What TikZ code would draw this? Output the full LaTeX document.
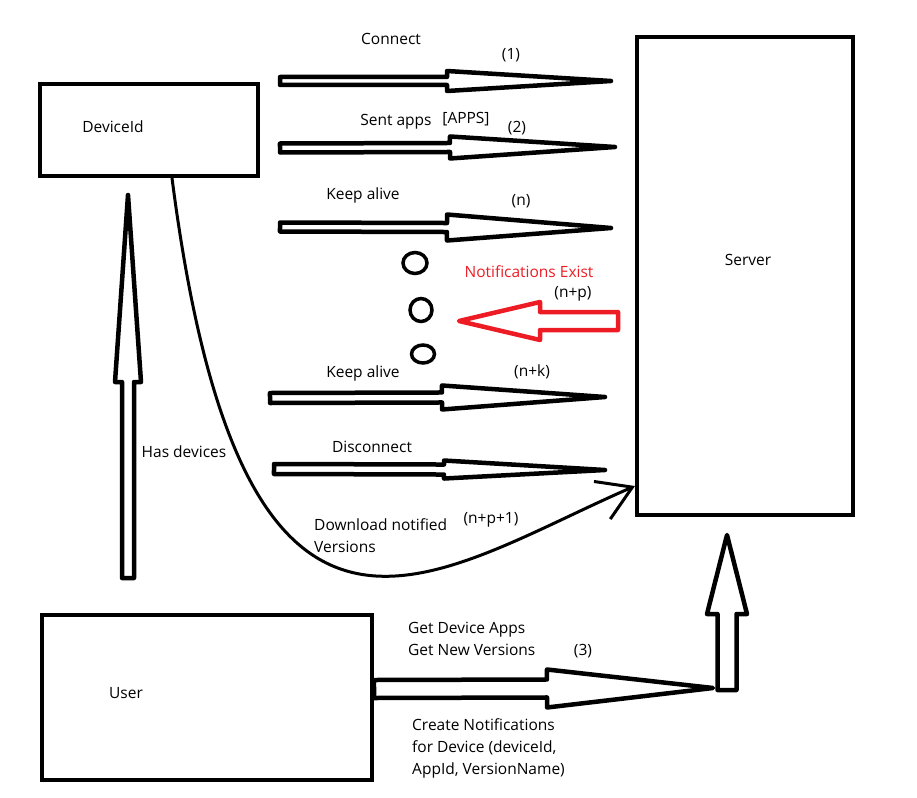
\documentclass[tikz,border=0pt]{standalone}
\usepackage{fontspec}
\setmainfont{Open Sans}
\usetikzlibrary{calc,arrows.meta}
\definecolor{paintred}{HTML}{ED1C24}
\tikzset{
  box/.style={draw, line width=4pt, minimum width=#1},
  block/.style={draw, line width=4.5pt, line join=round, fill=white},
  curve/.style={line width=3pt, -{Straight Barb[length=33pt,width=41pt]}},
  dot/.style={line width=3.5pt}
}
% block arrow: [options] tail, tip, head half width, shaft half width, head length
\newcommand{\blockarrow}[6][]{%
  \path ($(#3)!#6!(#2)$) coordinate (hb);
  \draw[block,#1] ($(#2)!#5!90:(#3)$) -- ($(hb)!#5!90:(#3)$) -- ($(hb)!#4!90:(#3)$) -- (#3)
    -- ($(hb)!#4!-90:(#3)$) -- ($(hb)!#5!-90:(#3)$) -- ($(#2)!#5!-90:(#3)$) -- cycle;}

\begin{document}
\begin{tikzpicture}[x=1pt, y=-1pt, every node/.style={font=\fontsize{15.5pt}{22pt}\selectfont, inner sep=0pt}]
	\useasboundingbox (0,0) rectangle (917,797);

	% Boxes
	\node[box=218pt, minimum height=92pt, label={[xshift=-36pt,yshift=3pt]center:DeviceId}] (dev) at (149,130) {};
	\node[box=216pt, minimum height=478pt, label={[xshift=3pt,yshift=16pt]center:Server}] (srv) at (745,276) {};
	\node[box=330pt, minimum height=165pt, label={[xshift=-81pt,yshift=4.5pt]center:User}] (usr) at (207,697.5) {};

	% Arrow ends
	\coordinate (c1a) at (280,81);  \coordinate (c1b) at (611,81);
	\coordinate (c2a) at (280,148); \coordinate (c2b) at (615,147);
	\coordinate (c3a) at (280,227); \coordinate (c3b) at (611,228);
	\coordinate (c4a) at (270,398); \coordinate (c4b) at (605,397);
	\coordinate (c5a) at (274,469); \coordinate (c5b) at (605,470);
	\coordinate (ua) at ([yshift=8.5pt]usr.east); \coordinate (ub) at (713,688);
	\coordinate (sa) at (727,690);  \coordinate (sb) at (727,535);
	\coordinate (ha) at (128,578);  \coordinate (hb0) at (128,195);
	\coordinate (na) at (618,321);  \coordinate (nb) at (459,321);
	\coordinate (dl) at ([yshift=31pt]srv.south west);

	% Block arrows
	\blockarrow{c1a}{c1b}{10pt}{4pt}{164pt}
	\blockarrow{c2a}{c2b}{11pt}{4.5pt}{165pt}
	\blockarrow{c3a}{c3b}{13pt}{4.5pt}{164pt}
	\blockarrow{c4a}{c4b}{12pt}{5pt}{163pt}
	\blockarrow{c5a}{c5b}{9pt}{5pt}{161pt}
	\blockarrow{ua}{ub}{19pt}{9pt}{166pt}
	\blockarrow{sa}{sb}{20pt}{9.5pt}{79pt}
	\blockarrow{ha}{hb0}{13pt}{6pt}{187pt}
	\blockarrow[draw=paintred]{na}{nb}{19pt}{9pt}{81pt}

	% Download curve
	\draw[curve] ([xshift=23pt]dev.south) .. controls (243,730) and (430,575) .. (dl);

	% Dots
	\foreach \cx/\cy/\rx/\ry in {415/263/12/10.5, 421/310/11/11.5, 423/354/11.5/9}
		\draw[dot] (\cx,\cy) ellipse (\rx pt and \ry pt);

	% Labels
	\node (tcon) at (391,39) {Connect};
	\node (t1) at (511,55) {(1)};
	\node (tsent) at (396,122) {Sent apps};
	\node (tapps) at (466,119) {[APPS]};
	\node (t2) at (517,128) {(2)};
	\node (tka) at (363,195) {Keep alive};
	\node (tn) at (521,201) {(n)};
	\node[text=paintred] (tnot) at (529,272) {Notifications Exist};
	\node (tnp) at (573,294) {(n+p)};
	\node (tkb) at (363,373) {Keep alive};
	\node (tnk) at (532,372) {(n+k)};
	\node (tdis) at (372,447) {Disconnect};
	\node[align=left, anchor=west] (tdl) at (314,536) {Download notified\\Versions};
	\node (tnp1) at (491,520) {(n+p+1)};
	\node (thas) at (184,452) {Has devices};
	\node[align=left, anchor=west] (tget) at (408,639) {Get Device Apps\\Get New Versions};
	\node (t3) at (583,651) {(3)};
	\node[align=left, anchor=west] (tcre) at (412,748) {Create Notifications\\for Device (deviceId,\\AppId, VersionName)};
\end{tikzpicture}
\end{document}
